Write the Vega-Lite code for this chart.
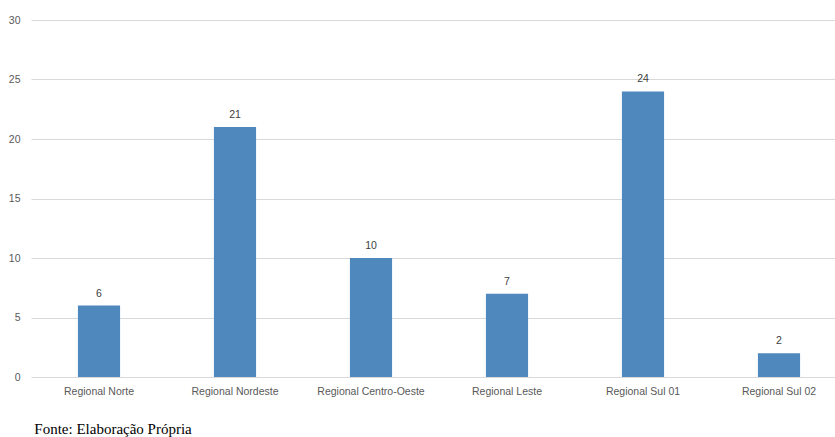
{
  "$schema": "https://vega.github.io/schema/vega-lite/v6.json",
  "autosize": "none",
  "padding": {"left": 31, "top": 20, "right": 0, "bottom": 60},
  "width": 816,
  "height": 357,
  "background": "white",
  "config": {"view": {"stroke": null}},
  "title": {
    "text": "Fonte: Elaboração Própria",
    "orient": "bottom",
    "anchor": "start",
    "font": "Liberation Serif",
    "fontSize": 15,
    "fontWeight": "normal",
    "color": "#000000",
    "offset": 25,
    "dx": 26
  },
  "data": {
    "values": [
      {"regional": "Regional Norte", "valor": 6},
      {"regional": "Regional Nordeste", "valor": 21},
      {"regional": "Regional Centro-Oeste", "valor": 10},
      {"regional": "Regional Leste", "valor": 7},
      {"regional": "Regional Sul 01", "valor": 24},
      {"regional": "Regional Sul 02", "valor": 2}
    ]
  },
  "encoding": {
    "x": {
      "field": "regional",
      "type": "nominal",
      "sort": null,
      "scale": {"paddingInner": 0.69, "paddingOuter": 0.345},
      "axis": {
        "title": null,
        "labelAngle": 0,
        "domain": false,
        "ticks": false,
        "labelFont": "Liberation Sans",
        "labelFontSize": 10.5,
        "labelColor": "#595959",
        "labelPadding": 9
      }
    },
    "y": {
      "field": "valor",
      "type": "quantitative",
      "scale": {"domain": [0, 30]},
      "axis": {
        "title": null,
        "values": [0, 5, 10, 15, 20, 25, 30],
        "domain": false,
        "ticks": false,
        "gridColor": "#D9D9D9",
        "gridWidth": 1,
        "labelFont": "Liberation Sans",
        "labelFontSize": 10.5,
        "labelColor": "#595959",
        "labelPadding": 11
      }
    }
  },
  "layer": [
    {"mark": {"type": "bar", "color": "#4F88BD"}},
    {
      "mark": {"type": "text", "baseline": "bottom", "dy": -7, "font": "Liberation Sans", "fontSize": 10.5, "color": "#404040"},
      "encoding": {"text": {"field": "valor", "type": "quantitative"}}
    }
  ]
}
